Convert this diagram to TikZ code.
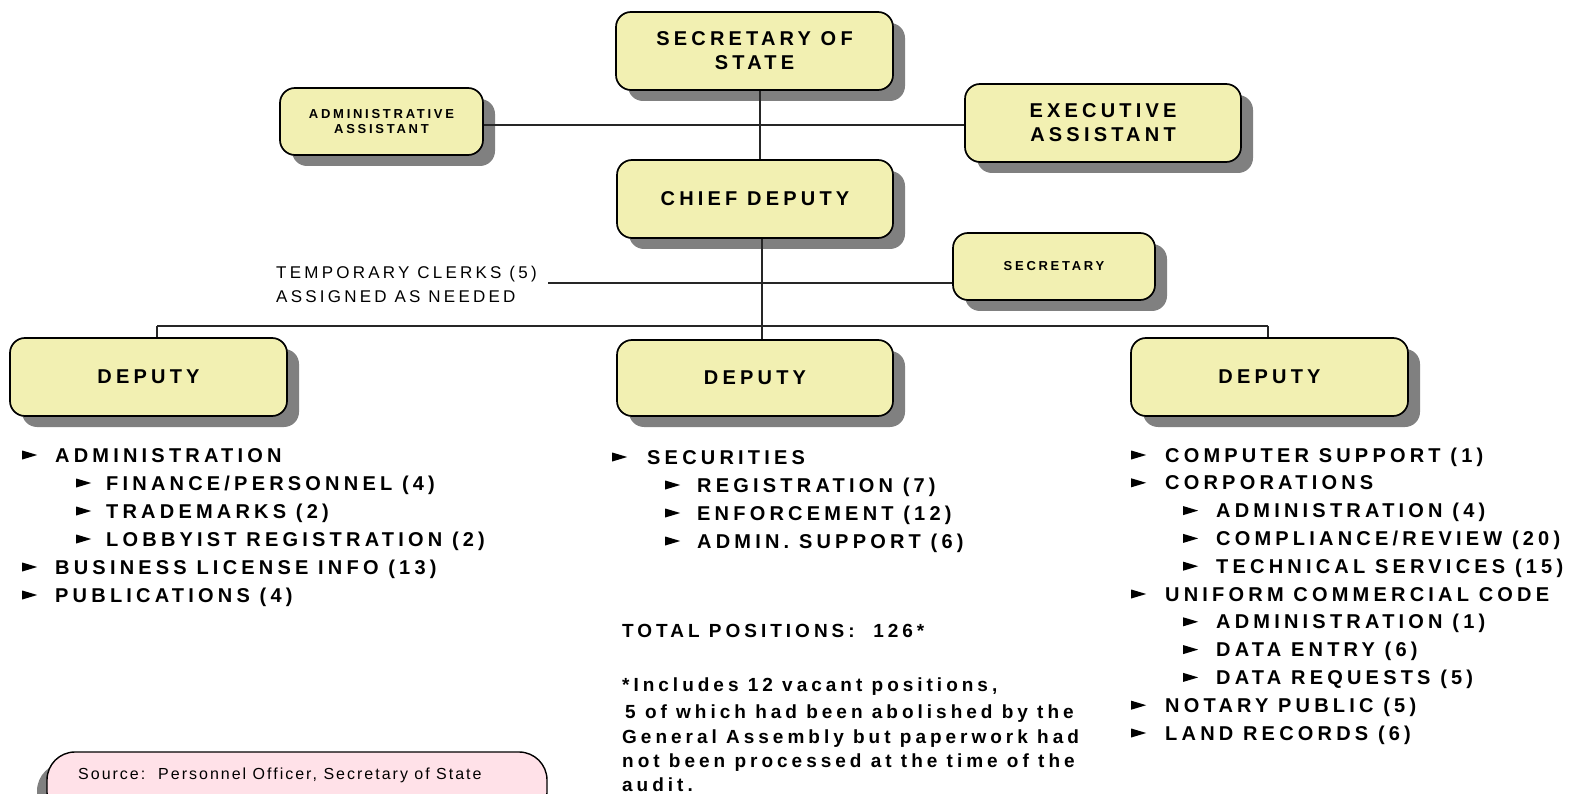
\documentclass[tikz,border=0pt]{standalone}
\usepackage{fontspec}
\setmainfont{Liberation Sans}
\newfontfamily\bfam[LetterSpace=21]{Liberation Sans Bold}
\newfontfamily\rfam[LetterSpace=19]{Liberation Sans}
\newfontfamily\srcfam[LetterSpace=12.5]{Liberation Sans}
\usetikzlibrary{shadows}
\definecolor{boxfill}{HTML}{F2F0B2}
\definecolor{shadowgray}{HTML}{808080}
\definecolor{pinkfill}{HTML}{FFE1E8}
\newcommand\tri{\tikz[x=1pt,y=1pt,baseline=0pt]\fill[black] (0,2.5)--(15,7)--(0,11.5)--cycle;}
\newcommand\bul[1]{\makebox[#1pt][l]{\tri}}
\tikzset{
  orgbox/.style={draw, line width=1.7pt, fill=boxfill, rounded corners=15pt,
    drop shadow={shadow xshift=12pt, shadow yshift=-11pt, fill=shadowgray, opacity=1},
    align=center, inner sep=0pt, text=black},
  bigtxt/.style={font=\bfam\fontsize{20}{24}\selectfont},
  smalltxt/.style={font=\bfam\fontsize{13}{15}\selectfont},
  item/.style={anchor=base west, inner sep=0pt, font=\bfam\fontsize{20}{24}\selectfont},
  note/.style={anchor=base west, inner sep=0pt, font=\bfam\fontsize{19}{24}\selectfont},
  plain/.style={anchor=base west, inner sep=0pt, font=\rfam\fontsize{17}{24}\selectfont},
  conn/.style={line width=1.6pt, draw=black!85},
}
\begin{document}
\begin{tikzpicture}[x=1pt,y=-1pt]
\useasboundingbox (0,0) rectangle (1572,794);
% boxes
\node[orgbox, bigtxt, minimum width=277pt, minimum height=78pt] (sos) at (754.5,51) {SECRETARY OF\\STATE};
\node[orgbox, smalltxt, minimum width=203pt, minimum height=67pt] (admin) at (381.5,121.5) {ADMINISTRATIVE\\ASSISTANT};
\node[orgbox, bigtxt, minimum width=276pt, minimum height=78pt] (exec) at (1103,123) {EXECUTIVE\\ASSISTANT};
\node[orgbox, bigtxt, minimum width=276pt, minimum height=78pt] (chief) at (755,199) {CHIEF DEPUTY};
\node[orgbox, smalltxt, minimum width=202pt, minimum height=67pt] (sec) at (1054,266.5) {SECRETARY};
\node[orgbox, bigtxt, minimum width=277pt, minimum height=78pt] (depL) at (148.5,377) {DEPUTY};
\node[orgbox, bigtxt, minimum width=276pt, minimum height=76pt] (depM) at (755,378) {DEPUTY};
\node[orgbox, bigtxt, minimum width=277pt, minimum height=78pt] (depR) at (1269.5,377) {DEPUTY};
% connectors
\coordinate (j1) at (760,125);
\draw[conn] (sos.south -| j1) -- (chief.north -| j1);
\draw[conn] (admin.east |- j1) -- (exec.west |- j1);
\coordinate (bar) at (762,326);
\coordinate (barL) at (157,326);
\coordinate (barR) at (1268,326);
\draw[conn] (chief.south -| bar) -- (depM.north -| bar);
\draw[conn] (barL) -- (barR);
\draw[conn] (barL) -- (barL |- depL.north);
\draw[conn] (barR) -- (barR |- depR.north);
% temporary clerks
\node[plain] (tc1) at (276,279) {TEMPORARY CLERKS (5)};
\node[plain] (tc2) at (276,303) {ASSIGNED AS NEEDED};
\coordinate (tcl) at (548,283);
\draw[conn] (tcl) -- (tcl -| sec.west);
% left list
\node[item] (a1) at (22,462) {\bul{33}ADMINISTRATION};
\node[item] (a2) at (76,490) {\bul{30}FINANCE/PERSONNEL (4)};
\node[item] (a3) at (76,518) {\bul{30}TRADEMARKS (2)};
\node[item] (a4) at (76,546) {\bul{30}LOBBYIST REGISTRATION (2)};
\node[item] (a5) at (22,574) {\bul{33}BUSINESS LICENSE INFO (13)};
\node[item] (a6) at (22,602) {\bul{33}PUBLICATIONS (4)};
% middle list
\node[item] (b1) at (612,464) {\bul{35}SECURITIES};
\node[item] (b2) at (665,492) {\bul{32}REGISTRATION (7)};
\node[item] (b3) at (665,520) {\bul{32}ENFORCEMENT (12)};
\node[item] (b4) at (665,548) {\bul{32}ADMIN. SUPPORT (6)};
\node[note] (tot) at (622,637) {TOTAL POSITIONS:\ \ 126*};
\node[note] (n1) at (622,691.5) {*Includes 12 vacant positions,};
\node[note] (n2) at (622,718.5) {\hspace{3pt}5 of which had been abolished by the};
\node[note] (n3) at (622,743.5) {General Assembly but paperwork had};
\node[note] (n4) at (622,767.5) {not been processed at the time of the};
\node[note] (n5) at (622,791.5) {audit.};
% right list
\node[item] (c1) at (1131,462) {\bul{34}COMPUTER SUPPORT (1)};
\node[item] (c2) at (1131,489.8) {\bul{34}CORPORATIONS};
\node[item] (c3) at (1183,517.6) {\bul{33}ADMINISTRATION (4)};
\node[item] (c4) at (1183,545.4) {\bul{33}COMPLIANCE/REVIEW (20)};
\node[item] (c5) at (1183,573.2) {\bul{33}TECHNICAL SERVICES (15)};
\node[item] (c6) at (1131,601) {\bul{34}UNIFORM COMMERCIAL CODE};
\node[item] (c7) at (1183,628.8) {\bul{33}ADMINISTRATION (1)};
\node[item] (c8) at (1183,656.6) {\bul{33}DATA ENTRY (6)};
\node[item] (c9) at (1183,684.4) {\bul{33}DATA REQUESTS (5)};
\node[item] (c10) at (1131,712.2) {\bul{34}NOTARY PUBLIC (5)};
\node[item] (c11) at (1131,740) {\bul{34}LAND RECORDS (6)};
% source
\begin{scope}
\clip (0,0) rectangle (1572,794);
\fill[shadowgray, rounded corners=28pt] (37,763) rectangle (537,830);
\draw[line width=1.4pt, fill=pinkfill, rounded corners=28pt] (47,752) rectangle (547,820);
\end{scope}
\node[anchor=base west, inner sep=0pt, font=\srcfam\fontsize{16}{20}\selectfont] (src) at (78,779) {Source:\ \ Personnel Officer, Secretary of State};
\end{tikzpicture}
\end{document}
